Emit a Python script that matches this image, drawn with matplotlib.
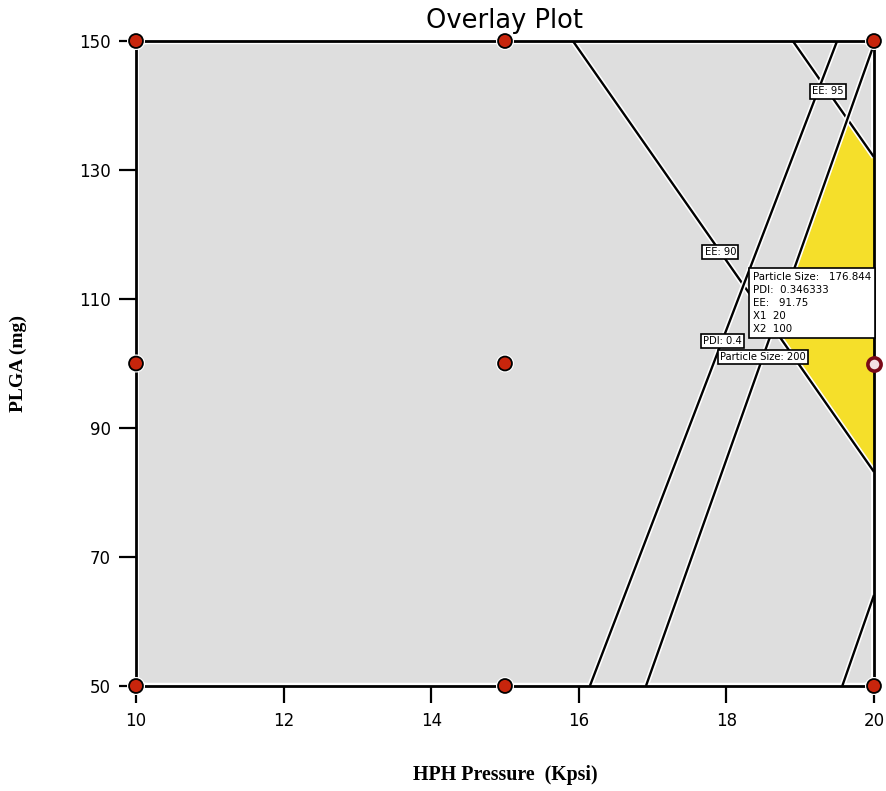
import numpy as np
import matplotlib
matplotlib.use("Agg")
import matplotlib.pyplot as plt
from matplotlib.patches import FancyBboxPatch
import matplotlib.patheffects as pe

# Axis ranges and ticks
x_range = [10, 20]
y_range = [50, 150]
x_ticks = [10, 12, 14, 16, 18, 20]
y_ticks = [50, 70, 90, 110, 130, 150]

# Design points (HPH pressure, PLGA)
design_x = [10, 10, 10, 15, 15, 15, 20, 20]
design_y = [50, 100, 150, 50, 100, 150, 50, 150]

# Contour boundaries: (x at start, x at end), (y at start, y at end)
ee90_x, ee90_y = [15.92, 20.0], [150.0, 83.2]
ee95_x, ee95_y = [18.90, 20.0], [150.0, 132.0]
pdi04_x, pdi04_y = [16.15, 19.50], [50.0, 150.0]
ps200_x, ps200_y = [16.91, 20.0], [50.0, 149.5]
ps_low_x, ps_low_y = [19.57, 20.0], [50.0, 64.1]

# Contour labels: text, line, y-position along line
contour_labels = [
    ("EE: 95", (ee95_x, ee95_y), 142.2),
    ("EE: 90", (ee90_x, ee90_y), 117.3),
    ("PDI: 0.4", (pdi04_x, pdi04_y), 103.5),
    ("Particle Size: 200", (ps200_x, ps200_y), 101.0),
]

# Flag point and its predicted responses
flag_x, flag_y = 20, 100
flag_lines = ["Particle Size:   176.844", "PDI:  0.346333", "EE:   91.75",
              "X1  20", "X2  100"]


def intersect(l1, l2):
    (x1, x2), (y1, y2) = l1
    (x3, x4), (y3, y4) = l2
    d = (x1 - x2) * (y3 - y4) - (y1 - y2) * (x3 - x4)
    t = ((x1 - x3) * (y3 - y4) - (y1 - y3) * (x3 - x4)) / d
    return x1 + t * (x2 - x1), y1 + t * (y2 - y1)


def x_on_line(line, y):
    (x1, x2), (y1, y2) = line
    return x1 + (y - y1) * (x2 - x1) / (y2 - y1)


fig = plt.figure(figsize=(8.87, 7.91), dpi=100)
ax = fig.add_axes([136 / 887, 1 - 686 / 791, 738 / 887, 645 / 791])
ax.set_xlim(x_range)
ax.set_ylim(y_range)

# grey design-space background with rounded corners
bg = FancyBboxPatch((0.004, 0.005), 0.992, 0.99,
                    boxstyle="round,pad=0,rounding_size=0.012",
                    transform=ax.transAxes, facecolor="#dedede",
                    edgecolor="none", zorder=0)
ax.add_patch(bg)

# sweet spot region: right of PS 200, between EE 90 and EE 95
ps_line = (ps200_x, ps200_y)
p_top = intersect(ps_line, (ee95_x, ee95_y))
p_bot = intersect(ps_line, (ee90_x, ee90_y))
poly_x = [p_top[0], ee95_x[1], ee90_x[1], p_bot[0]]
poly_y = [p_top[1], ee95_y[1], ee90_y[1], p_bot[1]]
ax.fill(poly_x, poly_y, color="#f5df2a", zorder=1, lw=0)

halo = [pe.Stroke(linewidth=4, foreground="white"), pe.Normal()]
for lx, ly in [(ee90_x, ee90_y), (ee95_x, ee95_y), (pdi04_x, pdi04_y),
               (ps200_x, ps200_y), (ps_low_x, ps_low_y)]:
    ax.plot(lx, ly, color="black", lw=1.7, zorder=2, path_effects=halo,
            solid_capstyle="butt")

for text, line, ly in contour_labels:
    ax.text(x_on_line(line, ly), ly, text, fontsize=7.2, ha="center",
            va="center", zorder=4,
            bbox=dict(boxstyle="square,pad=0.22", fc="white", ec="black",
                      lw=1.2))

# flag box
ax.text(18.36, 114.2, "\n".join(flag_lines), fontsize=7.4, ha="left",
        va="top", linespacing=1.38, zorder=5,
        bbox=dict(boxstyle="square,pad=0.35", fc="white", ec="black", lw=1.2))

# design points
ax.plot(design_x, design_y, "o", ms=10, mfc="#c8250c", mec="black",
        mew=1.3, clip_on=False, zorder=6,
        path_effects=[pe.Stroke(linewidth=3, foreground="white"),
                      pe.Normal()])
ax.plot([flag_x], [flag_y], "o", ms=9.5, mfc="#f3dfe3", mec="#7a0a18",
        mew=2.6, clip_on=False, zorder=7)

for s in ax.spines.values():
    s.set_linewidth(2)
    s.set_color("black")

ax.set_xticks(x_ticks)
ax.set_yticks(y_ticks)
ax.tick_params(axis="both", direction="out", length=12, width=1.6,
               labelsize=12, colors="black")
ax.tick_params(axis="x", pad=7)
ax.tick_params(axis="y", pad=6)

ax.set_title("Overlay Plot", fontsize=18.5, pad=9, family="DejaVu Sans")
ax.set_xlabel("HPH Pressure  (Kpsi)", fontsize=14.3, fontweight="bold",
              family="Liberation Serif")
ax.set_ylabel("PLGA (mg)", fontsize=14, fontweight="bold",
              family="Liberation Serif")
ax.xaxis.set_label_coords(0.5, -0.122)
ax.yaxis.set_label_coords(-0.148, 0.5)

fig.savefig("out.png", dpi=100)
